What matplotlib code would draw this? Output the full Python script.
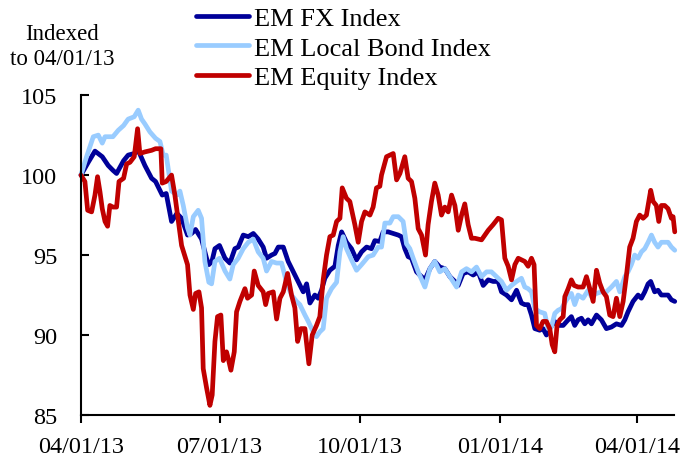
import numpy as np
import pandas as pd
import matplotlib
matplotlib.use("Agg")
import matplotlib.pyplot as plt
import matplotlib.dates as mdates

# days after 04/01/13 and index levels
fx_days = [0, 4.8, 9.2, 14, 17.9, 21, 23.4, 28, 31, 35, 37.6, 42, 46.4, 49, 53.4, 56, 59.5, 63, 66.1,
           70, 72.7, 75.3, 79.2, 82.5, 84, 86, 88, 91, 94.6, 97.8, 101.1, 103.3, 106.6, 109.9, 113.2,
           116.4, 119.7, 121.9, 125.2, 127.4, 129.6, 132.9, 136.1, 140.5, 143.8, 146, 148.2, 150.4,
           153.6, 155.8, 158, 160.2, 163.5, 166.8, 169, 171.2, 174.4, 177.7, 181, 184.3, 187.6, 190.8,
           193, 196.3, 198.5, 201.8, 205.1, 208.4, 210.5, 212.7, 214.9, 217.1, 220.4, 223.7, 225.9,
           229.2, 232.4, 235.7, 239, 242.3, 245.6, 247.8, 251, 254.3, 257.6, 260.9, 264.2, 267.5,
           270.7, 274, 276.2, 279.5, 282.8, 286.1, 289.3, 291.5, 293.7, 295.9, 298.1, 301.3, 303.5,
           305.7, 307.9, 311.2, 313.4, 316.7, 320, 322.1, 324.3, 326.5, 328.7, 330.9, 333.1, 335.3,
           338.6, 341.8, 345.1, 348.4, 351.7, 355, 357.2, 359.3, 362.6, 365.9, 368.1, 370.3, 372.5,
           374.2, 376.8, 379, 381.2, 383.4, 385.6, 387.8, 390]
fx_vals = [100, 100.8, 101.5, 101.15, 100.6, 100.3, 100.1, 100.9, 101.25, 101.35, 101.55, 100.6, 99.8,
           99.6, 98.75, 98.85, 97.1, 97.6, 97.3, 96.25, 96.35, 96.6, 96.0, 94.8, 94.4, 94.6, 95.4,
           95.6, 94.8, 94.5, 95.4, 95.5, 96.25, 96.15, 96.35, 96, 95.5, 94.8, 95, 95.1, 95.5, 95.5,
           94.6, 93.75, 93.1, 92.7, 93.2, 92, 92.5, 92.3, 92.8, 93.55, 94.05, 94.3, 95.6, 96.45, 95.8,
           95.4, 94.7, 95.2, 95.5, 95.4, 95.9, 95.85, 96.45, 96.45, 96.35, 96.25, 96.15, 95.4, 94.9,
           94.8, 93.95, 93.65, 93.45, 94.15, 94.6, 94.25, 94.15, 93.65, 93.35, 93.1, 93.85, 93.95,
           93.75, 93.95, 93.1, 93.45, 93.35, 93.35, 92.7, 92.5, 92.2, 92.8, 92.0, 91.9, 91.9, 91.25,
           90.4, 90.3, 90.4, 90, 90.4, 90.85, 90.6, 90.6, 90.95, 91.15, 90.6, 90.95, 91.05, 90.7,
           90.95, 90.7, 91.25, 90.95, 90.4, 90.5, 90.7, 90.6, 90.95, 91.45, 92.1, 92.5, 92.3, 92.7,
           93.2, 93.35, 92.7, 92.8, 92.5, 92.5, 92.5, 92.2, 92.1]

bond_days = [0, 3.7, 8.1, 11.4, 14, 15.8, 21, 24.5, 28, 31, 35, 37.6, 39.8, 42, 45.3, 49, 51.9, 54, 56,
             59.5, 63, 65, 67.2, 70, 71.6, 73.8, 77, 79.2, 81.4, 84, 85.8, 88, 91, 94.6, 97.8, 100,
             103.3, 106.6, 109.9, 113.2, 116.4, 119.7, 121.9, 125.2, 128.5, 131.8, 135, 138.3, 141.6,
             143.8, 147.1, 149.3, 152.5, 154.7, 156.9, 159.1, 161.3, 164.6, 167.9, 170.1, 172.2, 174.4,
             177.7, 181, 184.3, 188.7, 191.9, 195.2, 197.4, 199.6, 202.9, 205.1, 208.4, 211.6, 213.8,
             216, 218.2, 221.5, 225.9, 229.2, 232.4, 235.7, 239, 242.3, 246.7, 250, 253.2, 256.5,
             259.8, 263.1, 266.4, 269.6, 272.9, 276.2, 279.5, 282.8, 286.1, 289.3, 291.5, 293.7,
             295.9, 298.1, 301.3, 304.6, 306.8, 309, 311.2, 313.4, 315.6, 318.9, 322.1, 324.3, 326.5,
             329.8, 333.1, 335.3, 338.6, 341.8, 345.1, 348.4, 351.7, 353.9, 357.2, 359.3, 361.5,
             363.7, 365.9, 368.1, 370.3, 372.5, 374.7, 376.8, 379, 381.2, 383.4, 385.6, 387.8, 390]
bond_vals = [100, 101.15, 102.4, 102.5, 102, 102.4, 102.4, 102.8, 103.1, 103.5, 103.65, 104.06, 103.5,
             103.2, 102.7, 102.3, 102.1, 101.25, 101.25, 99, 98.75, 99, 98.1, 96.7, 96.25, 97.4, 97.8,
             97.3, 94.6, 93.3, 93.2, 94.6, 94.8, 94, 93.5, 94.4, 94.8, 95.4, 95.8, 96, 95.2, 94.8, 94,
             94.6, 94.5, 94.5, 93.3, 92.5, 92.1, 91.9, 91.25, 90.85, 90.2, 89.9, 90.2, 90.4, 92.3,
             92.9, 93.3, 95.2, 96.15, 95.4, 94.7, 94.05, 94.4, 94.9, 95, 95.5, 95.5, 97, 97, 97.4,
             97.4, 97.1, 95.7, 95.4, 94.8, 93.95, 93, 94.15, 94.6, 93.95, 94.15, 93.65, 93, 93.95,
             94.15, 93.95, 94.25, 93.65, 93.95, 93.95, 93.65, 93.35, 92.8, 93.1, 93.35, 93.55, 93,
             92.9, 92.7, 91.65, 91.45, 91.35, 90.4, 90.5, 91.35, 91.55, 91.65, 92.2, 92.6, 91.9, 92.5,
             92.3, 92.8, 92.4, 92.6, 92.7, 92.7, 93, 93.35, 92.7, 93.65, 93.95, 94.4, 95, 94.8, 95.2,
             95.4, 95.8, 96.25, 95.8, 95.5, 95.8, 95.8, 95.8, 95.5, 95.3]

eq_days = [0, 2.6, 4.4, 7, 9.2, 10.9, 12.5, 14, 15.8, 17.5, 19, 21, 23.4, 25, 28, 30, 32.2, 35, 37.2,
           38.7, 42, 46.4, 49, 52.5, 53.4, 56, 59.5, 61.7, 63.9, 66.1, 70, 71.6, 73.8, 75.3, 77.5,
           79.2, 80.3, 82.5, 84.7, 86.2, 88, 89.7, 91.9, 93.5, 95.6, 96.7, 98.5, 100.7, 102.2, 104.4,
           107.7, 109.4, 112.1, 113.8, 116.4, 119.7, 121.3, 123, 126.3, 128.5, 130.7, 132.9, 135.7,
           138.3, 140.5, 142.3, 144.5, 147.1, 149.7, 151.9, 154.7, 156.9, 159.1, 161.3, 163.5, 165.7,
           167.9, 170.1, 171.6, 174.4, 176.6, 179.9, 182.1, 184.3, 186.5, 189.8, 191.9, 194.1, 196.3,
           197.4, 200.7, 202.9, 205.1, 207.3, 209.5, 212.7, 214.9, 217.1, 219.3, 221.5, 223.7, 226.3,
           228, 230.2, 232.4, 234.6, 236.8, 239, 241.2, 243.4, 245.6, 247.8, 250, 252.1, 254.3,
           256.5, 258.7, 263.1, 265.3, 267.5, 270.7, 274, 276.2, 278.4, 280.6, 282.8, 285, 287.2,
           289.3, 291.5, 293.7, 295.9, 297.6, 299.2, 301.3, 303.5, 305.7, 307.9, 309.5, 311.2, 312.7,
           314.5, 316.7, 317.8, 320, 322.1, 323.9, 326.5, 329.8, 332, 334.2, 336.4, 338.6, 340.7,
           342.9, 345.1, 347.3, 349.5, 351.7, 353.9, 356.1, 358.3, 360.4, 362.6, 364.8, 367, 369.2,
           371.4, 374.2, 375.8, 377.9, 379.5, 381.2, 383.4, 385.6, 387.8, 388.9, 390]
eq_vals = [100, 99.6, 97.8, 97.7, 98.75, 99.9, 98.95, 97.9, 97.1, 96.8, 98.1, 98, 98, 99.6, 99.8,
           100.7, 100.8, 101.15, 102.9, 101.35, 101.45, 101.55, 101.65, 101.65, 99.5, 99.6, 100,
           98.75, 97.2, 95.6, 94.4, 92.5, 91.6, 92.6, 92.7, 91.7, 87.9, 86.7, 85.6, 86.25, 89.6,
           91.15, 91.25, 88.4, 88.95, 88.55, 87.8, 88.95, 91.45, 92.1, 92.9, 92.3, 92.5, 94, 93.1,
           92.7, 91.9, 92.6, 92.7, 91, 92.3, 92.7, 93.85, 92.5, 91.7, 89.6, 90.4, 90.4, 88.2, 90,
           90.6, 91.15, 93.45, 95, 96.15, 96.25, 97.1, 97.3, 99.2, 98.55, 98.35, 96.9, 95.8, 97.1,
           97.7, 97.5, 98, 99.2, 99.3, 100, 101.15, 101.25, 101.35, 99.7, 100.1, 101.15, 99.8, 99.6,
           98.55, 96.65, 96.25, 95, 96.9, 98.35, 99.5, 98.75, 97.5, 98, 97.7, 98.75, 98.1, 96.55,
           97.5, 98.2, 96.9, 96.05, 96.05, 95.95, 96.25, 96.55, 96.9, 97.3, 97.2, 94.8, 94.3, 93.45,
           94.4, 94.8, 94.7, 94.6, 94.3, 94.8, 94.4, 90.6, 90.4, 90.85, 90.85, 90.4, 89.4, 88.95,
           90.6, 90.95, 91.15, 92.4, 92.9, 93.45, 93.1, 93, 93, 93.65, 92.9, 92.1, 94.05, 93.25, 92.7,
           92.4, 91.25, 91.15, 92.3, 91.15, 92.1, 93.75, 95.5, 96.05, 97.1, 97.5, 97.3, 97.5, 99.05,
           98.35, 98.1, 97.1, 98.1, 98.1, 97.9, 97.3, 97.4, 96.45]

labels = ["EM FX Index", "EM Local Bond Index", "EM Equity Index"]
colors = ["#000099", "#99CCFF", "#C00000"]

start = pd.Timestamp("2013-04-01")


def to_dates(days):
    return start + pd.to_timedelta(np.array(days), unit="D")


plt.rcParams['font.family'] = ['Liberation Serif', 'DejaVu Serif']

fig = plt.figure(figsize=(6.86, 4.6), dpi=100)
ax = fig.add_axes([0.118, 0.0957, 0.8645, 0.6953])

series = [(fx_days, fx_vals), (bond_days, bond_vals), (eq_days, eq_vals)]
for (d, v), lab, c in zip(series, labels, colors):
    ax.plot(to_dates(d), v, color=c, lw=3.4, label=lab, solid_capstyle='round',
            solid_joinstyle='round', clip_on=False)

ax.set_ylim(85, 105)
ax.set_yticks([85, 90, 95, 100, 105])
ax.set_xlim(start, start + pd.Timedelta(days=389.5))
ax.xaxis.set_major_locator(mdates.MonthLocator(bymonth=[1, 4, 7, 10]))
ax.xaxis.set_major_formatter(mdates.DateFormatter('%m/%d/%y'))

for s in ['top', 'right']:
    ax.spines[s].set_visible(False)
for s in ['left', 'bottom']:
    ax.spines[s].set_linewidth(1.5)
ax.tick_params(axis='y', direction='in', length=6, width=1.5, labelsize=17.5, pad=17)
ax.tick_params(axis='x', direction='out', length=6, width=1.5, labelsize=17.5, pad=9)

fig.text(62 / 686, 1 - 47 / 460, "Indexed\nto 04/01/13", ha='center', va='center',
         fontsize=16.5, linespacing=1.3)

fig.legend(loc='upper left', bbox_to_anchor=(191 / 686, 1 - 2 / 460), frameon=False, fontsize=19,
           handlelength=2.0, handletextpad=0.2, labelspacing=0.24, borderaxespad=0.1,
           borderpad=0.1)

fig.savefig("out.png", dpi=100)
